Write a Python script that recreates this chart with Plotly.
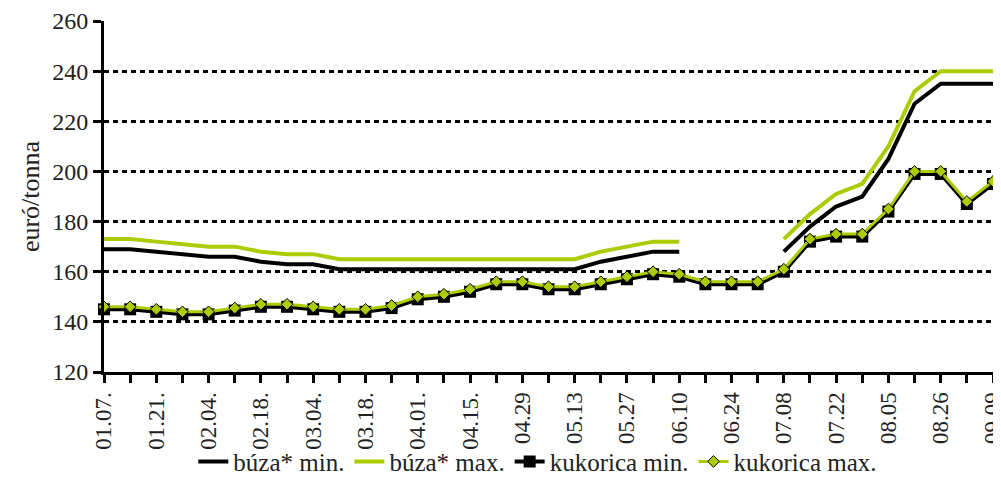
import plotly.graph_objects as go

categories = ["01.07.", "01.14.", "01.21.", "01.28.", "02.04.", "02.11.", "02.18.", "02.25.",
              "03.04.", "03.11.", "03.18.", "03.25.", "04.01.", "04.08.", "04.15.", "04.22.",
              "04.29", "05.06", "05.13", "05.20", "05.27", "06.03", "06.10", "06.17",
              "06.24", "07.01", "07.08", "07.15", "07.22", "07.29", "08.05", "08.12",
              "08.26", "09.02", "09.09"]

buza_min = [169, 169, 168, 167, 166, 166, 164, 163, 163, 161, 161, 161, 161, 161, 161, 161,
            161, 161, 161, 164, 166, 168, 168, None, None, None, 168, 178, 186, 190, 205, 227,
            235, 235, 235]
buza_max = [173, 173, 172, 171, 170, 170, 168, 167, 167, 165, 165, 165, 165, 165, 165, 165,
            165, 165, 165, 168, 170, 172, 172, None, None, None, 173, 183, 191, 195, 210, 232,
            240, 240, 240]
kukorica_min = [145, 145, 144, 143, 143, 144.5, 146, 146, 145, 144, 144, 145.5, 149, 150, 152, 155,
                155, 153, 153, 155, 157, 159, 158, 155, 155, 155, 160, 172, 174, 174, 184, 199,
                199, 187, 195]
kukorica_max = [146, 146, 145, 144, 144, 145.5, 147, 147, 146, 145, 145, 146.5, 150, 151, 153, 156,
                156, 154, 154, 156, 158, 160, 159, 156, 156, 156, 161, 173, 175, 175, 185, 200,
                200, 188, 196]

GREEN = "#AACC00"
FONT = "Liberation Serif, Times New Roman, DejaVu Serif, serif"

x = list(range(len(categories)))
ticktext = [c if i % 2 == 0 else "" for i, c in enumerate(categories)]

fig = go.Figure()
fig.add_trace(go.Scatter(x=x, y=buza_min, mode="lines", name="búza* min.",
                         line=dict(color="black", width=4), connectgaps=False, cliponaxis=False))
fig.add_trace(go.Scatter(x=x, y=buza_max, mode="lines", name="búza* max.",
                         line=dict(color=GREEN, width=4), connectgaps=False, cliponaxis=False))
fig.add_trace(go.Scatter(x=x, y=kukorica_min, mode="lines+markers", name="kukorica min.",
                         line=dict(color="black", width=4), cliponaxis=False,
                         marker=dict(symbol="square", size=12, color="black")))
fig.add_trace(go.Scatter(x=x, y=kukorica_max, mode="lines+markers", name="kukorica max.",
                         line=dict(color=GREEN, width=3), cliponaxis=False,
                         marker=dict(symbol="diamond", size=9, color=GREEN,
                                     line=dict(color="black", width=1))))

# page body has an 8px margin, so the figure is sized/offset to compensate
fig.update_layout(
    width=993, height=470,
    margin=dict(l=96, r=8, t=13, b=106, autoexpand=False),
    paper_bgcolor="white", plot_bgcolor="white",
    font=dict(family=FONT, size=24, color="#222"),
    showlegend=True,
    legend=dict(orientation="h", x=0.488, xanchor="center", xref="paper",
                y=-0.19, yanchor="top", font=dict(size=25, family=FONT),
                bgcolor="rgba(0,0,0,0)",
                itemwidth=30, tracegroupgap=0, traceorder="normal"),
)
fig.update_xaxes(
    range=[0, len(categories) - 1], tickmode="array", tickvals=x, ticktext=ticktext,
    tickangle=-90, ticks="outside", ticklen=8, tickwidth=3, tickcolor="black",
    showline=True, linecolor="black", linewidth=3, showgrid=False, zeroline=False,
    tickfont=dict(size=23, family=FONT), automargin=False, ticklabeloverflow="allow",
)
fig.update_yaxes(
    range=[120, 260], dtick=20, tick0=120, ticks="outside", ticklen=8, tickwidth=3,
    tickcolor="black", showline=True, linecolor="black", linewidth=3,
    showgrid=True, gridcolor="black", gridwidth=2.5, griddash="5px,4px", zeroline=False,
    tickfont=dict(size=24, family=FONT), automargin=False,
    title=dict(text="euró/tonna", font=dict(size=26, family=FONT), standoff=6),
)

fig.write_html("out.html")
